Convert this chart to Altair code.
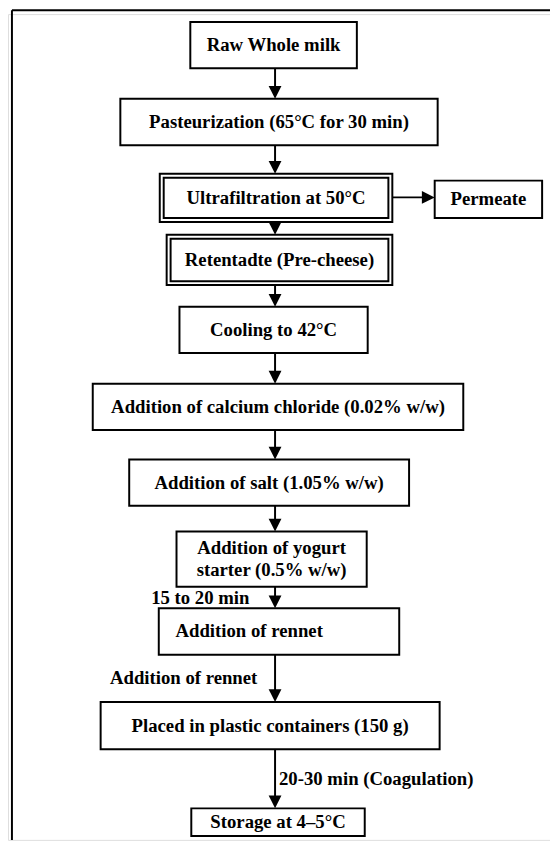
import altair as alt
import pandas as pd

# ---- flowchart content (page pixel coordinates) ----
box_labels = [
    "Raw Whole milk",
    "Pasteurization (65°C for 30 min)",
    "Ultrafiltration at 50°C",
    "Permeate",
    "Retentadte (Pre-cheese)",
    "Cooling to 42°C",
    "Addition of calcium chloride (0.02% w/w)",
    "Addition of salt (1.05% w/w)",
    ["Addition of yogurt", "starter (0.5% w/w)"],
    "Addition of rennet",
    "Placed in plastic containers (150 g)",
    "Storage at 4–5°C",
]
box_x0 = [193, 122, 162, 441, 169, 182, 94, 131, 179, 161, 102, 194]
box_x1 = [362, 444, 398, 550, 398, 373, 470, 415, 372, 405, 446, 370]
box_y0 = [16, 94, 170, 177, 232, 305, 383, 460, 533, 611, 706, 814]
box_y1 = [63, 141, 219, 215, 283, 352, 430, 507, 589, 658, 754, 842]
box_double = [0, 0, 1, 0, 1, 0, 0, 0, 0, 0, 0, 0]
box_text_left = [None, None, None, None, None, None, None, None, None, 178, None, None]

main_chain = [0, 1, 2, 4, 5, 6, 7, 8, 9, 10, 11]
arrow_x = 279
side_arrow_y = 194

side_labels = ["15 to 20 min", "Addition of rennet", "20-30 min (Coagulation)"]
side_x = [253, 261, 283]
side_y = [601, 682, 784]
side_align = ["right", "right", "left"]

frame_left = 12
frame_top = 4

# ---- build tables ----
boxes = pd.DataFrame({"x0": box_x0, "x1": box_x1,
                      "y0": box_y0, "y1": box_y1, "dbl": box_double})
inner = boxes[boxes.dbl == 1].copy()
inner["x0"] = inner["x0"] + 4
inner["x1"] = inner["x1"] - 4
inner["y0"] = inner["y0"] + 4
inner["y1"] = inner["y1"] - 4

LH = 23
txt_rows = []
for i, lab in enumerate(box_labels):
    cy = (box_y0[i] + box_y1[i]) / 2
    lines = lab if isinstance(lab, list) else [lab]
    n = len(lines)
    for k, line in enumerate(lines):
        y = cy + (k - (n - 1) / 2) * LH
        if box_text_left[i] is not None:
            txt_rows.append({"x": box_text_left[i], "y": y, "t": line, "a": "left"})
        else:
            txt_rows.append({"x": (box_x0[i] + box_x1[i]) / 2, "y": y, "t": line, "a": "center"})
texts = pd.DataFrame(txt_rows)

seg_rows = []
head_rows = []
for a, b in zip(main_chain[:-1], main_chain[1:]):
    seg_rows.append({"x": arrow_x, "x2": arrow_x, "y": box_y1[a], "y2": box_y0[b] - 6})
    head_rows.append({"x": arrow_x, "y": box_y0[b]})
segs = pd.DataFrame(seg_rows)
heads = pd.DataFrame(head_rows)
hseg = pd.DataFrame([{"x": box_x1[2], "x2": box_x0[3] - 6, "y": side_arrow_y, "y2": side_arrow_y}])
hhead = pd.DataFrame([{"x": box_x0[3], "y": side_arrow_y}])

frame = pd.DataFrame([
    {"x": frame_left, "x2": 558, "y": frame_top, "y2": frame_top},
    {"x": frame_left, "x2": frame_left, "y": frame_top, "y2": 846},
])

side = pd.DataFrame({"x": side_x, "y": side_y, "t": side_labels, "a": side_align})

X = alt.Scale(domain=[8, 558], range=[0, 550])
Y = alt.Scale(domain=[8, 846], range=[0, 838])
FONT = "Liberation Serif, Times New Roman, serif"
FS = 19

def rects(df):
    return alt.Chart(df).mark_rect(fill="white", stroke="black", strokeWidth=2).encode(
        x=alt.X("x0:Q", scale=X, axis=None), x2="x1:Q",
        y=alt.Y("y0:Q", scale=Y, axis=None), y2="y1:Q")

def rules(df, w=2):
    return alt.Chart(df).mark_rule(color="black", strokeWidth=w).encode(
        x=alt.X("x:Q", scale=X, axis=None), x2="x2:Q",
        y=alt.Y("y:Q", scale=Y, axis=None), y2="y2:Q")

def points(df, path):
    return alt.Chart(df).mark_point(shape=path, filled=True, size=169, color="black",
                                    opacity=1, strokeWidth=0).encode(
        x=alt.X("x:Q", scale=X, axis=None), y=alt.Y("y:Q", scale=Y, axis=None))

def textlayer(df, align):
    return alt.Chart(df).mark_text(font=FONT, fontSize=FS, fontWeight="bold", color="black",
                                   align=align, baseline="middle").encode(
        x=alt.X("x:Q", scale=X, axis=None), y=alt.Y("y:Q", scale=Y, axis=None), text="t:N")

layers = [
    rules(frame),
    rects(boxes),
    rects(inner),
    rules(segs),
    rules(hseg),
    points(heads, "M-1,-2L1,-2L0,0Z"),
    points(hhead, "M-2,-1L-2,1L0,0Z"),
    textlayer(texts[texts.a == "center"], "center"),
    textlayer(texts[texts.a == "left"], "left"),
    textlayer(side[side.a == "right"], "right"),
    textlayer(side[side.a == "left"], "left"),
]

chart = alt.layer(*layers).properties(
    width=550, height=838, padding=0,
    autosize=alt.AutoSizeParams(type="none"),
).configure_view(stroke=None).configure(background="white")

chart.save("out.html", embed_options={"renderer": "svg", "actions": False})
